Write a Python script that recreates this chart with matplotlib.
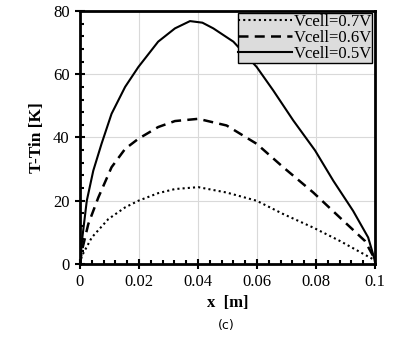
import matplotlib
matplotlib.use("Agg")
import matplotlib.pyplot as plt
from matplotlib.ticker import MultipleLocator

x_07 = [0, 0.0006, 0.004, 0.0096, 0.0153, 0.0198, 0.0265, 0.0322, 0.0401, 0.0497, 0.0599, 0.0689, 0.0791, 0.0881, 0.0994, 0.1]
y_07 = [0, 2.5, 8.4, 14.2, 17.9, 20.0, 22.4, 23.7, 24.3, 22.6, 20.0, 15.8, 11.5, 7.3, 1.5, 0.8]

x_06 = [0, 0.0006, 0.0028, 0.0062, 0.0107, 0.0153, 0.0198, 0.0265, 0.0322, 0.0401, 0.0497, 0.0599, 0.0689, 0.0791, 0.0881, 0.0966, 0.0994, 0.1]
y_06 = [0, 4.0, 12.6, 21.0, 30.6, 36.4, 39.6, 43.3, 45.2, 45.9, 43.8, 38.0, 30.6, 22.6, 14.7, 7.3, 2.5, 0.8]

x_05 = [0, 0.0008, 0.0023, 0.0045, 0.0073, 0.0107, 0.0153, 0.0198, 0.0265, 0.0322, 0.0373, 0.0415, 0.0452, 0.052, 0.0599, 0.0655, 0.0723, 0.0797, 0.0859, 0.0926, 0.0977, 0.0994, 0.1]
y_05 = [0, 8.4, 20.0, 29.5, 38.0, 47.5, 56.0, 62.3, 70.3, 74.5, 76.8, 76.3, 74.5, 70.3, 62.3, 54.9, 45.4, 35.9, 26.3, 16.8, 8.4, 3.0, 0.8]

labels = ["Vcell=0.7V", "Vcell=0.6V", "Vcell=0.5V"]

serif = ["Liberation Serif", "DejaVu Serif"]
plt.rcParams["font.family"] = serif

fig = plt.figure(figsize=(4.01, 3.43), dpi=100)
ax = fig.add_axes([0.1995, 0.2303, 0.7355, 0.7377])

ax.plot(x_07, y_07, color="black", lw=1.5, linestyle=(0, (1, 1.5)), label=labels[0])
ax.plot(x_06, y_06, color="black", lw=1.8, linestyle=(0, (4, 2.5)), label=labels[1])
ax.plot(x_05, y_05, color="black", lw=1.5, linestyle="-", label=labels[2])

ax.set_xlim(0, 0.1)
ax.set_ylim(0, 80)
ax.set_xticks([0, 0.02, 0.04, 0.06, 0.08, 0.1])
ax.set_xticklabels(["0", "0.02", "0.04", "0.06", "0.08", "0.1"])
ax.set_yticks([0, 20, 40, 60, 80])
ax.xaxis.set_minor_locator(MultipleLocator(0.004))
ax.yaxis.set_minor_locator(MultipleLocator(4))
ax.grid(True, which="major", color="#d9d9d9", lw=0.8)
ax.set_axisbelow(True)

for s in ax.spines.values():
    s.set_linewidth(2.0)

ax.tick_params(which="major", direction="inout", length=7, width=1.5, labelsize=12, pad=4,
               top=False, right=False)
ax.tick_params(which="minor", direction="in", length=3, width=1.5, top=False, right=False)

ax.set_xlabel("x  [m]", fontsize=12, fontweight="bold", labelpad=3)
ax.set_ylabel("T-Tin [K]", fontsize=12.5, fontweight="bold", labelpad=6)

leg = ax.legend(loc="upper right", fontsize=12, frameon=True, fancybox=False,
                handlelength=3.2, handletextpad=0.1, borderpad=0.05, labelspacing=0.0,
                borderaxespad=0.15)
leg.get_frame().set_facecolor("#dcdcdc")
leg.get_frame().set_edgecolor("black")
leg.get_frame().set_linewidth(1.0)
leg.get_frame().set_alpha(1)

fig.text(0.565, 0.05, "(c)", fontsize=9, ha="center", va="center", family=["DejaVu Sans"])

fig.savefig("out.png", dpi=100)
